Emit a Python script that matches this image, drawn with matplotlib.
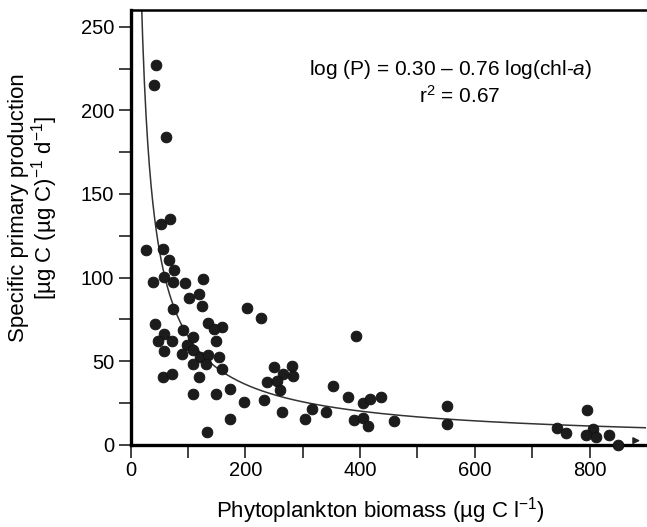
import matplotlib
matplotlib.use("Agg")
import matplotlib.pyplot as plt
import numpy as np

plt.rcParams['font.family'] = ['Liberation Sans', 'DejaVu Sans']
plt.rcParams['mathtext.fontset'] = 'custom'
plt.rcParams['mathtext.rm'] = 'Liberation Sans'
plt.rcParams['mathtext.it'] = 'Liberation Sans:italic'

# -----------------------------
# data
# -----------------------------
biomass = [43.5, 41.2, 61.5, 52.2, 68.5,
           26.7, 55.7, 67.2, 75.9, 58.5, 74.2, 94.6, 38.3, 125.9, 101.5,
           119.5, 124.7, 74.2, 202.6, 226.4, 42.3, 91.6, 135.2, 158.5, 148.1,
           145.6, 58.5, 47.0, 72.5, 108.0, 97.5, 58.5, 88.8, 108.0, 120.7,
           135.2, 154.3, 108.0, 130.6, 158.5, 55.7, 71.4, 119.5, 108.0, 148.6,
           172.4, 197.4, 173.0, 132.4, 232.7, 249.6, 280.4, 265.8, 282.2, 237.9,
           255.4, 260.1, 263.5, 304.8, 317.0, 339.7, 352.9, 378.5, 393.7, 404.6,
           418.0, 390.2, 405.2, 414.6, 437.2, 458.6, 551.0, 551.0, 743.0, 758.2,
           796.5, 805.8, 794.3, 810.5, 833.2, 849.3]
production = [227.1, 215.1, 183.8, 131.8, 134.8,
              116.2, 117.3, 110.8, 104.3, 100.2, 97.5, 96.9, 97.2, 99.3, 87.9,
              90.3, 82.9, 81.3, 81.7, 76.1, 72.1, 68.9, 73.1, 70.3, 62.3,
              69.3, 66.3, 61.9, 62.3, 64.7, 59.9, 56.3, 54.3, 56.9, 52.3,
              53.7, 52.7, 48.1, 48.5, 45.4, 40.3, 42.4, 40.3, 30.6, 30.6,
              33.4, 25.6, 15.2, 7.8, 26.8, 46.3, 47.3, 42.4, 40.9, 37.3,
              37.9, 32.5, 19.4, 15.2, 21.2, 19.8, 35.2, 28.8, 64.9, 25.0,
              27.6, 15.0, 16.0, 11.0, 28.3, 14.0, 23.4, 12.6, 10.2, 7.0,
              20.8, 9.6, 6.0, 4.4, 5.6, 0.0]

# fitted power curve P = a * B^b (as drawn)
fit_a = 3146.0
fit_b = -0.843

x_max = 898
y_max = 260
offscale_arrow = (872, 893, 2.5)

# -----------------------------
# figure
# -----------------------------
fig = plt.figure(figsize=(6.47, 5.27), dpi=100)
ax = fig.add_axes([0.202, 0.156, 0.796, 0.825])

b = np.linspace(15, x_max, 600)
ax.plot(b, fit_a * b ** fit_b, color='#333333', lw=1.1, zorder=2)
ax.scatter(biomass, production, s=60, color='#1c1c1c', edgecolors='#111111',
           linewidths=0.6, zorder=3, clip_on=False)

ax.annotate('', xy=(offscale_arrow[1], offscale_arrow[2]),
            xytext=(offscale_arrow[0], offscale_arrow[2]),
            arrowprops=dict(arrowstyle='-|>', color='#222222', lw=1.0,
                            mutation_scale=10))

ax.set_xlim(0, x_max)
ax.set_ylim(0, y_max)
ax.set_xticks(np.arange(0, 801, 200))
ax.set_xticks(np.arange(100, 900, 200), minor=True)
ax.set_yticks(np.arange(0, 251, 50))
ax.set_yticks(np.arange(25, 250, 50), minor=True)
ax.tick_params(which='both', direction='out', length=9, width=1.2,
               labelsize=14.5, pad=3, color='#222222')

for side in ['left', 'bottom']:
    ax.spines[side].set_linewidth(2.4)
ax.spines['top'].set_linewidth(1.8)
ax.spines['right'].set_visible(False)

ax.text(0.622, 0.851, r'log (P) = 0.30 – 0.76 log(chl-$a$)', transform=ax.transAxes,
        ha='center', va='baseline', fontsize=15)
ax.text(0.639, 0.786, r'r$^2$ = 0.67', transform=ax.transAxes,
        ha='center', va='baseline', fontsize=15)

fig.text(380 / 647, 1 - 511 / 527, r'Phytoplankton biomass (µg C l$^{-1}$)',
         ha='center', va='center', fontsize=16)
fig.text(34 / 647, 1 - 208 / 527,
         'Specific primary production\n' + r'[µg C (µg C)$^{-1}$ d$^{-1}$]',
         ha='center', va='center', rotation=90, fontsize=16,
         multialignment='center', linespacing=1.0)

fig.savefig('out.png', dpi=100)
